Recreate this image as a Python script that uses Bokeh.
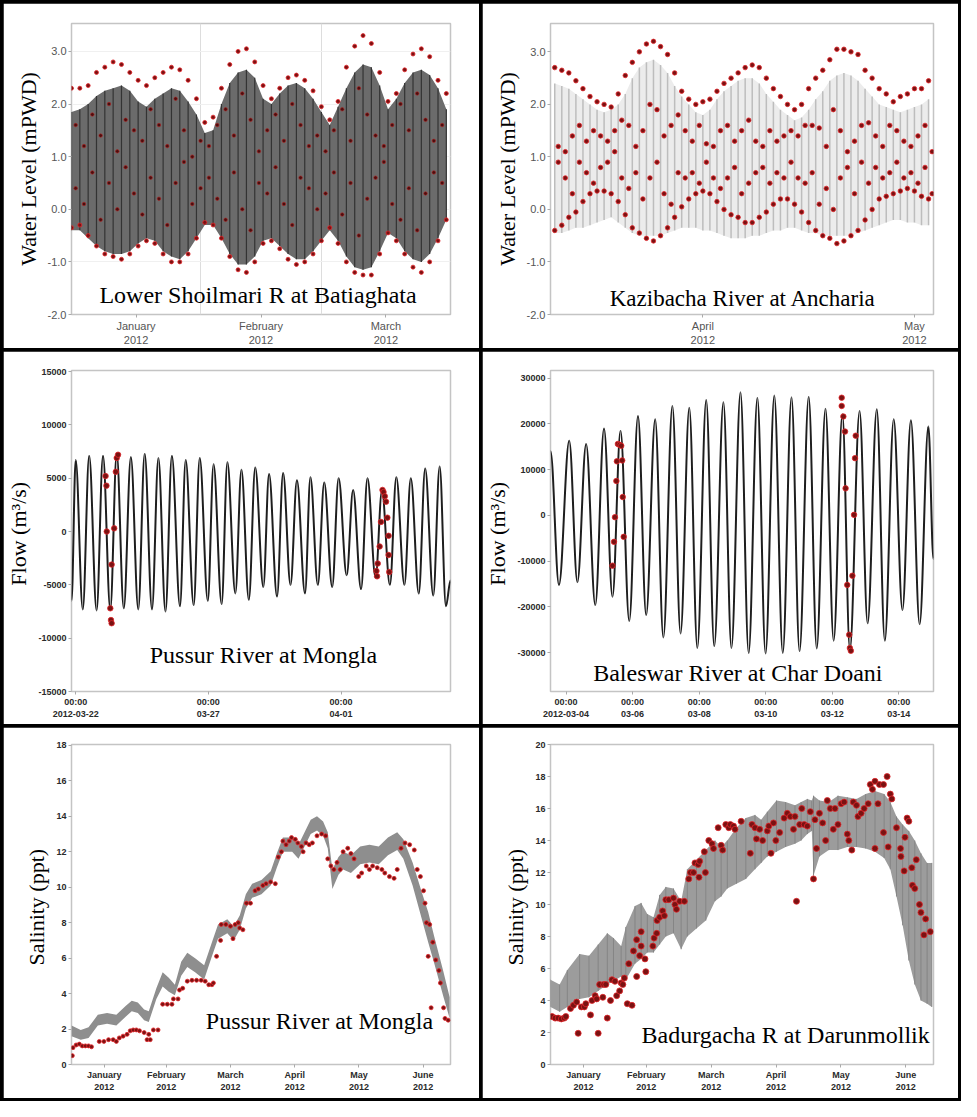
import numpy as np
from bokeh.plotting import figure
from bokeh.models import FixedTicker, Label, GridBox, Range1d, PrintfTickFormatter
from bokeh.embed import file_html
from bokeh.resources import INLINE

# ---------------- Panel 1: Lower Shoilmari R at Batiaghata (days since 2012-01-01)
p1_day = list(range(0, 92, 2))
p1_model_high = [1.85, 1.9, 2.0, 2.15, 2.25, 2.3, 2.35, 2.25, 2.05, 1.95, 2.1, 2.2, 2.3, 2.25, 2.05, 1.8, 1.45, 1.5, 2.0, 2.4,
                 2.6, 2.65, 2.5, 2.1, 2.0, 2.2, 2.35, 2.4, 2.3, 2.1, 1.85, 1.6, 1.95, 2.3, 2.6, 2.75, 2.7, 2.35, 1.9, 2.1,
                 2.4, 2.6, 2.65, 2.55, 2.3, 1.9]
p1_model_low = [-0.4, -0.4, -0.55, -0.7, -0.8, -0.85, -0.85, -0.8, -0.65, -0.55, -0.6, -0.8, -0.9, -0.95, -0.8, -0.55, -0.3, -0.3, -0.55, -0.85,
                -1.05, -1.05, -0.9, -0.6, -0.55, -0.7, -0.85, -0.95, -0.95, -0.8, -0.6, -0.4, -0.6, -0.9, -1.1, -1.15, -1.1, -0.8, -0.45, -0.55,
                -0.8, -0.95, -1.0, -0.85, -0.55, -0.2]
p1_obs_high = [2.3, 2.3, 2.35, 2.6, 2.7, 2.8, 2.75, 2.6, 2.45, 2.35, 2.5, 2.6, 2.7, 2.65, 2.45, 2.1, 1.65, 1.75, 2.3, 2.75,
               3.0, 3.05, 2.8, 2.35, 2.1, 2.3, 2.5, 2.55, 2.45, 2.25, 1.95, 1.7, 2.05, 2.7, 3.1, 3.3, 3.15, 2.6, 2.05, 2.2,
               2.65, 2.95, 3.05, 2.9, 2.45, 2.2]
p1_obs_low = [-0.35, -0.3, -0.5, -0.7, -0.85, -0.9, -0.95, -0.85, -0.7, -0.6, -0.65, -0.85, -1.0, -1.0, -0.85, -0.55, -0.25, -0.3, -0.55, -0.9,
              -1.15, -1.2, -1.0, -0.65, -0.6, -0.75, -0.95, -1.05, -1.0, -0.85, -0.6, -0.35, -0.65, -1.0, -1.2, -1.25, -1.25, -0.85, -0.45, -0.6,
              -0.85, -1.1, -1.2, -1.0, -0.6, -0.2]
p1_mid_day = list(range(1, 91, 2))
p1_obs_mid_a = [1.6, 1.2, 1.8, 1.4, 2.0, 1.1, 1.7, 1.5, 1.3, 1.9, 1.6, 1.2, 2.1, 1.5, 1.0, 1.3, 1.2, 1.6, 1.9, 1.4,
                2.2, 1.7, 1.1, 1.5, 1.8, 1.3, 2.0, 1.6, 1.2, 1.4, 1.1, 1.5, 1.9, 1.3, 2.3, 1.8, 1.4, 1.2, 1.6, 2.0,
                1.5, 2.2, 1.7, 1.3, 1.6]
p1_obs_mid_b = [0.4, 0.1, 0.7, -0.2, 0.5, 0.0, 0.8, 0.3, -0.1, 0.6, 0.2, -0.3, 0.5, 0.9, 0.1, 0.4, 0.6, 0.2, -0.2, 0.7,
                0.0, -0.4, 0.5, 0.3, 0.8, 0.1, -0.3, 0.6, 0.4, 0.0, 0.3, 0.7, -0.1, 0.5, -0.5, 0.2, 0.6, 0.9, 0.1, -0.2,
                0.4, -0.4, 0.3, 0.7, 0.5]
p1_tick_pos = [15.5, 45.5, 75.5]
p1_tick_lab = ["January\n2012", "February\n2012", "March\n2012"]
p1_month_start = [31, 60]

# ---------------- Panel 2: Kazibacha River at Ancharia (days since 2012-03-01)
p2_day = list(range(10, 64))
p2_model_high = [2.4, 2.35, 2.3, 2.2, 2.1, 2.0, 1.9, 1.85, 1.9, 2.0, 2.2, 2.5, 2.7, 2.8, 2.85, 2.75, 2.6, 2.35, 2.15, 2.0,
                 1.85, 1.8, 1.9, 2.1, 2.25, 2.35, 2.45, 2.5, 2.5, 2.4, 2.2, 2.05, 1.9, 1.8, 1.7, 1.75, 1.9, 2.1, 2.25, 2.45,
                 2.55, 2.6, 2.55, 2.45, 2.3, 2.15, 2.0, 1.95, 1.9, 1.85, 1.9, 1.95, 2.0, 2.1]
p2_model_low = [-0.45, -0.45, -0.4, -0.35, -0.35, -0.3, -0.25, -0.2, -0.15, -0.25, -0.35, -0.45, -0.5, -0.5, -0.5, -0.5, -0.45, -0.4, -0.35, -0.35,
                -0.35, -0.4, -0.4, -0.45, -0.5, -0.55, -0.55, -0.55, -0.5, -0.5, -0.45, -0.4, -0.4, -0.35, -0.35, -0.4, -0.45, -0.45, -0.5, -0.5,
                -0.5, -0.5, -0.5, -0.45, -0.4, -0.35, -0.3, -0.25, -0.2, -0.2, -0.25, -0.25, -0.3, -0.3]
p2_obs_high = [2.7, 2.65, 2.6, 2.45, 2.3, 2.15, 2.05, 2.0, 1.95, 2.2, 2.55, 2.8, 3.0, 3.15, 3.2, 3.1, 2.95, 2.6, 2.25, 2.1,
               2.0, 2.05, 2.1, 2.25, 2.4, 2.5, 2.6, 2.7, 2.75, 2.7, 2.5, 2.3, 2.15, 2.0, 1.9, 2.0, 2.3, 2.5, 2.65, 2.85,
               3.05, 3.05, 3.0, 2.95, 2.65, 2.5, 2.3, 2.2, 2.05, 2.15, 2.2, 2.3, 2.3, 2.45]
p2_obs_low = [-0.4, -0.3, -0.15, -0.05, 0.15, 0.3, 0.35, 0.35, 0.3, 0.15, -0.1, -0.35, -0.45, -0.55, -0.6, -0.5, -0.35, -0.15, 0.05, 0.2,
              0.3, 0.35, 0.3, 0.15, 0.0, -0.1, -0.15, -0.25, -0.25, -0.15, -0.05, 0.1, 0.2, 0.2, 0.1, -0.05, -0.25, -0.4, -0.5, -0.55,
              -0.65, -0.6, -0.5, -0.4, -0.2, 0.0, 0.2, 0.25, 0.3, 0.35, 0.4, 0.35, 0.25, 0.2]
p2_obs_mid_a = [1.2, 1.1, 1.4, 1.6, 1.3, 1.5, 1.4, 1.3, 1.5, 1.7, 1.6, 1.2, 1.5, 2.0, 1.9, 1.4, 1.6, 1.8, 1.5, 1.3,
                1.6, 1.25, 1.2, 1.5, 1.6, 1.3, 1.5, 1.7, 1.3, 1.2, 1.5, 1.3, 1.4, 1.5, 1.4, 1.6, 1.6, 1.55, 1.2, 1.9,
                1.5, 1.1, 1.3, 1.6, 1.65, 1.4, 1.2, 1.6, 1.5, 1.3, 1.2, 1.4, 1.6, 1.1]
p2_obs_mid_b = [0.9, 0.6, 0.3, 0.9, 0.7, 0.5, 0.8, 0.9, 1.1, 0.6, 0.4, 0.7, 0.2, 0.6, 0.9, 0.3, 0.1, 0.7, 0.6, 0.7,
                0.5, 0.9, 0.6, 0.4, 0.6, 0.8, 0.3, 0.5, 0.7, 0.8, 0.5, 0.7, 0.6, 0.9, 0.6, 0.5, 0.7, 0.1, 0.4, 0.0,
                0.6, 0.8, 0.3, 0.9, 0.5, 0.8, 0.6, 0.7, 0.9, 0.6, 0.7, 0.5, 0.8, 0.3]
p2_tick_pos = [31, 61]
p2_tick_lab = ["April\n2012", "May\n2012"]

# ---------------- Panel 3: Pussur River at Mongla flow (hours since 2012-03-22 00:00), tidal extremes
p3_t = [-3.8, 0.0, 6.4, 12.2, 18.9, 24.7, 31.3, 37.1, 43.5, 49.9, 56.6, 62.4, 69.0, 74.8, 81.2, 87.0, 94.3, 99.5, 106.7, 112.2,
        119.5, 124.7, 132.0, 137.2, 144.4, 149.9, 156.6, 162.4, 169.7, 174.9, 182.1, 187.6, 194.3, 200.1, 207.4, 212.3, 219.0, 224.8, 232.0, 237.8,
        245.1, 250.9, 258.1, 263.9, 271.2, 277.0, 284.2, 290.0, 297.3, 303.1, 310.3, 316.1, 323.4, 329.2, 334.9, 339.0]
p3_q = [-6500, 6700, -7300, 7100, -7400, 7100, -7300, 7300, -7200, 7000, -7300, 7300, -7300, 6900, -7500, 7100, -7000, 6700, -6900, 6900,
        -6500, 6300, -6800, 6500, -5800, 5800, -6400, 6000, -5200, 5400, -6100, 5500, -5000, 4800, -5800, 5100, -5000, 4600, -5200, 5000,
        -4100, 3900, -5400, 5000, -4300, 3800, -5000, 5100, -5000, 5000, -5800, 5900, -6000, 6100, -7000, -4600]
p3_obs_t = [27.0, 27.8, 28.1, 31.3, 31.9, 32.5, 32.5, 34.8, 36.3, 37.1, 38.3,
            272.0, 272.6, 273.2, 274.9, 276.1, 277.5, 278.4, 279.6, 280.7, 281.9, 283.0, 283.0, 283.6]
p3_obs_q = [5200, 4300, 0, -7200, -8300, -8600, -3100, 300, 5600, 6900, 7200,
            -3700, -4200, -3000, -1400, 900, 3900, 3700, 3300, 2800, 1300, -400, -2200, -3800]
p3_tick_pos = [0, 120, 240]
p3_tick_lab = ["00:00\n2012-03-22", "00:00\n03-27", "00:00\n04-01"]

# ---------------- Panel 4: Baleswar River at Char Doani flow (hours since 2012-03-04 00:00)
p4_t = [-11.2, -5.1, 2.3, 8.2, 14.5, 21.1, 27.4, 33.5, 39.3, 45.6, 51.9, 57.8, 64.3, 70.2, 76.7, 82.6, 88.9, 94.7, 101.1, 106.9,
        113.5, 119.3, 125.8, 131.7, 138.0, 143.9, 150.2, 156.3, 162.6, 168.4, 175.0, 180.8, 187.1, 193.0, 199.3, 204.7, 211.7, 217.5, 224.1, 229.9,
        236.3, 242.6, 248.7, 255.0, 261.3, 265.0]
p4_q = [14000, -15200, 16300, -14600, 15600, -19600, 19000, -17800, 18500, -23100, 21700, -21800, 21000, -26700, 23900, -25800, 23500, -29000, 25200, -28600,
        24700, -29000, 26900, -30100, 25700, -30200, 26200, -30100, 25800, -29700, 25900, -29100, 23300, -27400, 22100, -29400, 22800, -23600, 23200, -27400,
        21000, -20700, 20800, -23800, 19400, -9600]
p4_obs_t = [33.5, 34.6, 35.3, 36.3, 36.7, 37.4, 38.6, 39.8, 40.5, 40.9, 41.6,
            198.8, 198.8, 200.0, 201.2, 201.6, 202.8, 204.2, 204.7, 205.4, 206.5, 207.7, 208.4, 208.9]
p4_obs_q = [-11000, -5800, -400, 7500, 11800, 15600, 15400, 15200, 12000, 4000, -4700,
            25700, 23900, 21600, 18300, 5900, -15200, -26100, -29000, -29600, -13200, 100, 12500, 17400]
p4_tick_pos = [0, 48, 96, 144, 192, 240]
p4_tick_lab = ["00:00\n2012-03-04", "00:00\n03-06", "00:00\n03-08", "00:00\n03-10", "00:00\n03-12", "00:00\n03-14"]

# ---------------- Panel 5: Pussur River at Mongla salinity (days since 2012-01-01)
p5_day = [0, 4.4, 8.1, 12.5, 16.9, 21.3, 25.7, 28.6, 31.5, 34.5, 36.7, 40.3, 43.3, 46.2, 49.1, 52.1, 55.0, 58.7, 63.0, 66.7,
          69.6, 74.0, 77.0, 79.9, 82.8, 85.8, 90.2, 94.6, 97.5, 100.4, 104.8, 107.8, 110.7, 113.6, 116.6, 119.5, 121.7, 123.9, 126.8, 129.0,
          132.7, 137.1, 141.5, 145.9, 150.3, 154.7, 157.6, 162.0, 166.4, 169.4, 172.3, 176.7, 179.6]
p5_model_high = [2.2, 1.95, 2.1, 2.8, 2.9, 2.8, 3.3, 3.6, 3.5, 3.1, 3.0, 4.3, 5.2, 4.9, 4.5, 5.8, 6.3, 6.0, 5.6, 6.9,
                 7.9, 8.2, 7.8, 8.4, 9.6, 10.2, 10.4, 10.9, 11.9, 12.8, 12.8, 12.4, 13.1, 13.8, 14.0, 13.7, 13.1, 11.0, 11.7, 12.0,
                 11.8, 12.3, 12.4, 12.3, 12.8, 13.1, 12.7, 11.4, 9.7, 8.6, 7.2, 5.2, 3.8]
p5_model_low = [1.6, 1.4, 1.5, 2.2, 2.3, 2.2, 2.7, 3.0, 2.9, 2.5, 2.4, 3.7, 4.4, 4.1, 3.9, 5.0, 5.5, 5.2, 4.8, 6.1,
                7.1, 7.4, 7.0, 7.6, 8.8, 9.4, 9.6, 10.1, 11.1, 12.0, 12.0, 11.6, 12.3, 13.0, 13.2, 12.9, 12.2, 9.9, 10.7, 11.0,
                10.8, 11.3, 11.4, 11.3, 11.8, 12.1, 11.6, 10.1, 8.2, 6.9, 5.7, 3.8, 2.6]
p5_obs_day = [0.4, 0.7, 2.2, 3.7, 5.1, 6.6, 8.1, 9.5, 13.2, 15.4, 17.6, 19.8, 21.3, 22.7, 24.5, 26.4, 27.9, 29.3, 30.8, 32.3,
              34.5, 35.9, 37.4, 36.7, 38.9, 41.1, 43.3, 45.5, 47.7, 48.4, 50.6, 51.3, 52.8, 55.0, 57.2, 59.4, 61.6, 63.5, 65.2, 66.7,
              67.4, 68.9, 70.8, 71.1, 73.3, 75.5, 76.7, 77.7, 79.2, 79.9, 81.4, 83.1, 85.0, 87.2, 88.7, 90.9, 92.4, 94.6, 96.8, 98.2,
              99.7, 100.4, 101.9, 103.4, 104.5, 106.3, 107.5, 109.2, 110.0, 111.4, 112.9, 114.4, 116.6, 118.8, 120.7, 121.7, 123.2, 124.6, 126.1, 127.6,
              129.0, 131.2, 132.7, 134.2, 136.4, 137.8, 140.0, 141.5, 143.0, 145.2, 147.4, 148.8, 151.0, 153.2, 154.7, 156.5, 158.4, 160.6, 162.8, 164.2,
              165.7, 167.2, 167.9, 168.6, 169.4, 170.1, 170.8, 171.6, 173.0, 174.5, 175.2, 176.7, 177.4, 178.9]
p5_obs_val = [0.5, 0.95, 1.1, 1.15, 1.05, 1.05, 1.05, 1.0, 1.3, 1.3, 1.4, 1.4, 1.3, 1.5, 1.6, 1.7, 1.9, 1.95, 1.95, 1.9,
              1.8, 1.4, 1.4, 1.7, 1.95, 1.95, 3.4, 3.4, 3.4, 3.7, 3.7, 4.2, 4.3, 4.7, 4.75, 4.75, 4.75, 4.7, 4.5, 4.5,
              4.6, 6.1, 7.0, 7.9, 7.9, 7.8, 7.1, 7.9, 8.0, 7.7, 7.6, 9.1, 9.1, 9.8, 9.9, 10.1, 10.2, 10.3, 10.2, 11.7,
              12.0, 12.6, 12.4, 12.6, 12.8, 12.7, 12.5, 12.3, 12.0, 12.5, 12.4, 12.5, 12.9, 13.0, 12.9, 11.6, 11.2, 11.0, 11.4, 11.0,
              12.0, 12.2, 11.9, 11.6, 10.6, 10.8, 11.2, 11.0, 11.2, 11.1, 11.0, 10.8, 10.6, 10.5, 11.0, 12.2, 12.5, 12.4, 12.1, 11.0,
              10.6, 9.8, 9.1, 8.0, 6.1, 7.9, 3.2, 6.9, 5.9, 5.3, 4.6, 3.2, 2.6, 2.5]

# ---------------- Panel 6: Badurgacha R at Darunmollik salinity (days since 2012-01-01)
p6_day = [0, 4.3, 7.9, 13.7, 18.1, 22.4, 26.7, 29.6, 33.2, 35.4, 39.7, 42.6, 45.5, 48.4, 51.3, 54.2, 57.8, 61.4, 64.3, 68.6,
          73.0, 77.3, 80.2, 83.1, 87.4, 91.8, 96.1, 99.0, 101.9, 106.2, 110.5, 114.9, 117.8, 120.7, 122.8, 123.6, 126.4, 130.8, 135.1, 139.5,
          143.8, 148.1, 152.5, 156.8, 159.7, 162.6, 165.5, 168.4, 171.2, 174.1, 177.0, 179.2]
p6_model_high = [5.3, 5.0, 5.9, 6.9, 6.8, 7.5, 8.2, 7.9, 7.4, 8.6, 9.9, 10.1, 9.4, 9.2, 10.6, 11.1, 11.0, 10.2, 12.2, 12.8,
                 13.4, 14.0, 13.6, 14.0, 14.8, 15.4, 15.6, 15.3, 15.8, 16.5, 16.4, 16.2, 16.4, 16.6, 16.5, 16.8, 16.5, 16.4, 16.8, 16.7,
                 16.6, 16.9, 17.1, 16.9, 16.4, 15.5, 15.0, 14.6, 14.0, 13.2, 12.6, 12.6]
p6_model_low = [3.6, 3.3, 3.6, 4.1, 4.2, 4.6, 5.0, 5.2, 5.5, 5.3, 6.3, 6.6, 7.0, 7.0, 7.5, 8.0, 8.2, 7.2, 8.0, 8.5,
                9.0, 10.2, 10.5, 11.0, 11.3, 11.6, 12.2, 12.6, 13.0, 13.3, 13.6, 13.8, 14.0, 14.4, 14.6, 11.8, 13.0, 13.4, 13.4, 13.6,
                13.6, 13.5, 13.3, 12.9, 12.2, 10.5, 8.7, 6.5, 5.0, 4.0, 3.8, 3.6]
p6_obs_day = [0.7, 2.2, 3.6, 5.1, 6.5, 7.2, 9.4, 10.8, 12.3, 13.0, 14.5, 15.9, 16.6, 18.8, 19.5, 21.0, 21.7, 22.4, 23.1, 24.6,
              25.0, 26.0, 26.7, 28.2, 28.9, 30.3, 31.1, 32.5, 33.2, 34.0, 34.7, 36.1, 36.8, 38.3, 39.0, 40.5, 40.5, 41.9, 42.6, 42.6,
              44.4, 44.8, 48.1, 48.7, 49.9, 50.1, 51.3, 52.7, 53.5, 54.2, 55.6, 57.8, 58.5, 59.2, 60.7, 62.9, 65.0, 65.8, 67.2, 67.9,
              69.8, 69.4, 70.1, 72.3, 72.8, 74.4, 75.9, 76.6, 78.8, 80.2, 80.9, 82.4, 83.8, 84.5, 86.0, 86.7, 89.6, 93.9, 94.7, 96.1,
              96.8, 98.3, 99.7, 101.9, 102.6, 103.6, 104.8, 105.9, 107.7, 109.8, 111.3, 112.7, 114.2, 114.9, 115.6, 117.1, 118.1, 119.2, 120.7, 122.1,
              123.6, 124.3, 125.0, 126.4, 127.9, 129.3, 130.1, 131.5, 132.9, 133.7, 135.1, 136.6, 138.0, 139.5, 140.2, 141.6, 142.3, 143.8, 144.5, 146.0,
              147.4, 149.3, 150.3, 151.3, 152.5, 152.5, 153.9, 154.6, 156.5, 156.5, 158.2, 158.7, 159.7, 160.4, 162.6, 164.5, 164.7, 166.2, 166.6, 167.6,
              168.4, 169.8, 170.1, 171.2, 171.9, 173.4, 174.1, 175.5, 176.3, 178.5]
p6_obs_val = [3.0, 2.9, 2.9, 2.85, 2.9, 3.0, 3.5, 3.7, 3.9, 1.95, 3.6, 3.6, 3.8, 3.1, 4.0, 4.3, 4.1, 1.95, 5.0, 4.2,
              5.0, 5.0, 2.9, 4.0, 5.3, 5.2, 4.3, 4.6, 5.1, 5.0, 5.4, 3.8, 6.3, 3.7, 7.1, 5.5, 7.8, 6.8, 8.3, 7.4,
              6.6, 5.8, 7.4, 7.9, 8.2, 9.0, 9.2, 9.6, 9.3, 10.3, 10.3, 10.4, 10.0, 9.7, 10.2, 10.2, 11.6, 12.0, 12.0, 12.6,
              11.7, 12.5, 12.7, 13.3, 12.0, 14.0, 13.8, 13.5, 14.8, 13.7, 13.4, 15.0, 14.8, 15.0, 14.9, 14.7, 15.2, 13.2, 15.0, 14.8,
              14.1, 14.7, 14.0, 14.6, 14.9, 13.2, 15.1, 14.0, 14.5, 15.4, 15.7, 15.5, 14.7, 15.5, 10.2, 15.0, 16.0, 15.0, 14.9, 15.8,
              11.6, 15.3, 13.5, 15.7, 15.1, 14.0, 16.5, 16.0, 14.7, 16.0, 15.0, 16.3, 16.4, 14.4, 14.0, 13.4, 16.4, 16.2, 15.5, 15.7,
              16.0, 16.3, 17.5, 17.2, 17.7, 13.5, 16.3, 17.5, 17.5, 14.5, 18.0, 13.6, 16.9, 16.6, 14.8, 13.5, 13.0, 12.1, 14.2, 15.4,
              15.2, 12.3, 11.2, 11.0, 12.8, 10.0, 9.5, 8.1, 9.1, 8.3]
sal_tick_pos = [15.5, 45, 75.5, 106, 136.5, 167]
sal_tick_lab = ["January\n2012", "February\n2012", "March\n2012", "April\n2012", "May\n2012", "June\n2012"]

# ---------------- styling helpers
OBS_FILL = "#7a1212"
OBS_LINE = "#e3262b"
SERIF = "Liberation Serif"
SANS = "Liberation Sans"


def make_fig(w, h, xr, yr, left, right, top, bottom):
    p = figure(width=w, height=h, x_range=Range1d(*xr), y_range=Range1d(*yr),
               output_backend="svg", toolbar_location=None,
               min_border_left=left, min_border_right=right,
               min_border_top=top, min_border_bottom=bottom)
    p.outline_line_color = "#c4c4c4"
    p.outline_line_width = 1.5
    p.border_fill_color = "white"
    p.background_fill_color = "white"
    p.xgrid.visible = False
    p.ygrid.visible = False
    return p


def style_axes(p, light, ylabel, yticks, yfmt, xticks, xlabels):
    for ax in (p.xaxis[0], p.yaxis[0]):
        ax.axis_line_color = None
        ax.major_tick_line_color = "#aaaaaa"
        ax.major_tick_out = 3
        ax.major_tick_in = 0
        ax.minor_tick_line_color = None
        ax.major_label_text_font = SANS
        if light:
            ax.major_label_text_font_size = "11px"
            ax.major_label_text_color = "#555555"
            ax.major_label_text_font_style = "normal"
        else:
            ax.major_label_text_font_size = "9px"
            ax.major_label_text_color = "#2a2a2a"
            ax.major_label_text_font_style = "bold"
        ax.major_label_standoff = 2
    p.yaxis.ticker = FixedTicker(ticks=yticks)
    p.yaxis.formatter = PrintfTickFormatter(format=yfmt)
    p.xaxis.ticker = FixedTicker(ticks=xticks)
    p.xaxis.major_label_overrides = {k: v for k, v in zip(xticks, xlabels)}
    p.yaxis.axis_label = ylabel
    p.yaxis.axis_label_text_font = SERIF
    p.yaxis.axis_label_text_font_size = "22px"
    p.yaxis.axis_label_text_font_style = "normal"
    p.yaxis.axis_label_text_color = "black"
    p.yaxis.axis_label_standoff = 4


def title_label(p, x, y, text, size="24px"):
    p.add_layout(Label(x=x, y=y, text=text, text_font=SERIF, text_font_size=size,
                       text_color="black", text_baseline="alphabetic"))


def tidal_curve(p, t, q):
    t = np.asarray(t, float)
    q = np.asarray(q, float)
    dt = t[1:] - t[:-1]
    p.bezier(x0=t[:-1], y0=q[:-1], x1=t[1:], y1=q[1:],
             cx0=t[:-1] + 0.36 * dt, cy0=q[:-1], cx1=t[1:] - 0.36 * dt, cy1=q[1:],
             line_color="#1e1e1e", line_width=2)


W = 476
# ---------------- Panel 1
p1 = make_fig(W, 345, (0, 91), (-2, 3.53), 58, 3, 20, 27)
style_axes(p1, True, "Water Level (mPWD)", [-2, -1, 0, 1, 2, 3], "%.1f", p1_tick_pos, p1_tick_lab)
p1.xgrid.visible = True
p1.xgrid.ticker = FixedTicker(ticks=p1_month_start)
p1.xgrid.grid_line_color = "#dddddd"
p1.ygrid.visible = True
p1.ygrid.grid_line_color = "#f0f0f0"
p1.varea(x=p1_day, y1=p1_model_low, y2=p1_model_high, fill_color="#6b6b6b")
p1.segment(x0=p1_day, y0=p1_model_low, x1=p1_day, y1=p1_model_high, line_color="#333333", line_width=1.2)
for ys in (p1_obs_high, p1_obs_low):
    p1.scatter(p1_day, ys, size=4, fill_color=OBS_FILL, line_color=OBS_LINE, line_width=0.8)
for ys in (p1_obs_mid_a, p1_obs_mid_b):
    p1.scatter(p1_mid_day, ys, size=3.5, fill_color="#4a0e0e", line_color="#b02020", line_width=0.6)
title_label(p1, 6.7, -1.62, "Lower Shoilmari  R at Batiaghata", "24px")

# ---------------- Panel 2
p2 = make_fig(W, 345, (9.4, 63.7), (-2, 3.54), 60, 5, 20, 27)
style_axes(p2, True, "Water Level (mPWD)", [-2, -1, 0, 1, 2, 3], "%.1f", p2_tick_pos, p2_tick_lab)
p2.varea(x=p2_day, y1=p2_model_low, y2=p2_model_high, fill_color="#ececec")
p2.segment(x0=p2_day, y0=p2_model_low, x1=p2_day, y1=p2_model_high, line_color="#bdbdbd", line_width=1.5)
p2_mid_day = [d + 0.5 for d in p2_day]
for xs, ys in ((p2_day, p2_obs_high), (p2_day, p2_obs_low), (p2_mid_day, p2_obs_mid_a), (p2_mid_day, p2_obs_mid_b)):
    p2.scatter(xs, ys, size=4.5, fill_color=OBS_FILL, line_color=OBS_LINE, line_width=0.8)
title_label(p2, 17.8, -1.7, "Kazibacha River at Ancharia", "23px")

# ---------------- Panel 3
p3 = make_fig(W, 373, (-3.8, 339), (-15000, 15100), 62, 26, 19, 33)
style_axes(p3, False, "Flow  (m\u00b3/s)", list(range(-15000, 15001, 5000)), "%d", p3_tick_pos, p3_tick_lab)
tidal_curve(p3, p3_t, p3_q)
p3.scatter(p3_obs_t, p3_obs_q, size=5.5, fill_color=OBS_FILL, line_color=OBS_LINE, line_width=0.8)
title_label(p3, 67, -11560, "Pussur River  at Mongla", "24px")

# ---------------- Panel 4
p4 = make_fig(W, 373, (-11.2, 265), (-38500, 31650), 65, 25, 19, 33)
style_axes(p4, False, "Flow  (m\u00b3/s)", list(range(-30000, 30001, 10000)), "%d", p4_tick_pos, p4_tick_lab)
tidal_curve(p4, p4_t, p4_q)
p4.scatter(p4_obs_t, p4_obs_q, size=5.5, fill_color=OBS_FILL, line_color=OBS_LINE, line_width=0.8)
title_label(p4, 19.6, -34400, "Baleswar River  at Char Doani", "24px")

# ---------------- Panel 5
p5 = make_fig(W, 371, (0, 180), (0, 18.05), 45, 29, 17, 34)
style_axes(p5, False, "Salinity  (ppt)", list(range(0, 19, 2)), "%d", sal_tick_pos, sal_tick_lab)
p5.varea(x=p5_day, y1=p5_model_low, y2=p5_model_high, fill_color="#8e8e8e")
p5.scatter(p5_obs_day, p5_obs_val, size=4, fill_color=OBS_FILL, line_color=OBS_LINE, line_width=0.8)
title_label(p5, 63.8, 2.43, "Pussur River  at Mongla", "24px")

# ---------------- Panel 6
p6 = make_fig(W, 371, (0, 180), (0, 20), 45, 25, 15, 31)
style_axes(p6, False, "Salinity  (ppt)", list(range(0, 21, 2)), "%d", sal_tick_pos, sal_tick_lab)
p6.varea(x=p6_day, y1=p6_model_low, y2=p6_model_high, fill_color="#9c9c9c")
p6.segment(x0=p6_day, y0=p6_model_low, x1=p6_day, y1=p6_model_high, line_color="#858585", line_width=1)
p6.scatter(p6_obs_day, p6_obs_val, size=6, fill_color=OBS_FILL, line_color=OBS_LINE, line_width=0.8)
title_label(p6, 42.8, 1.86, "Badurgacha R at Darunmollik", "24px")

grid = GridBox(children=[(p1, 0, 0), (p2, 0, 1), (p3, 1, 0), (p4, 1, 1), (p5, 2, 0), (p6, 2, 1)],
               spacing=3, styles={"background-color": "black", "padding": "3px"})

open("out.html", "w").write(file_html(grid, INLINE))
